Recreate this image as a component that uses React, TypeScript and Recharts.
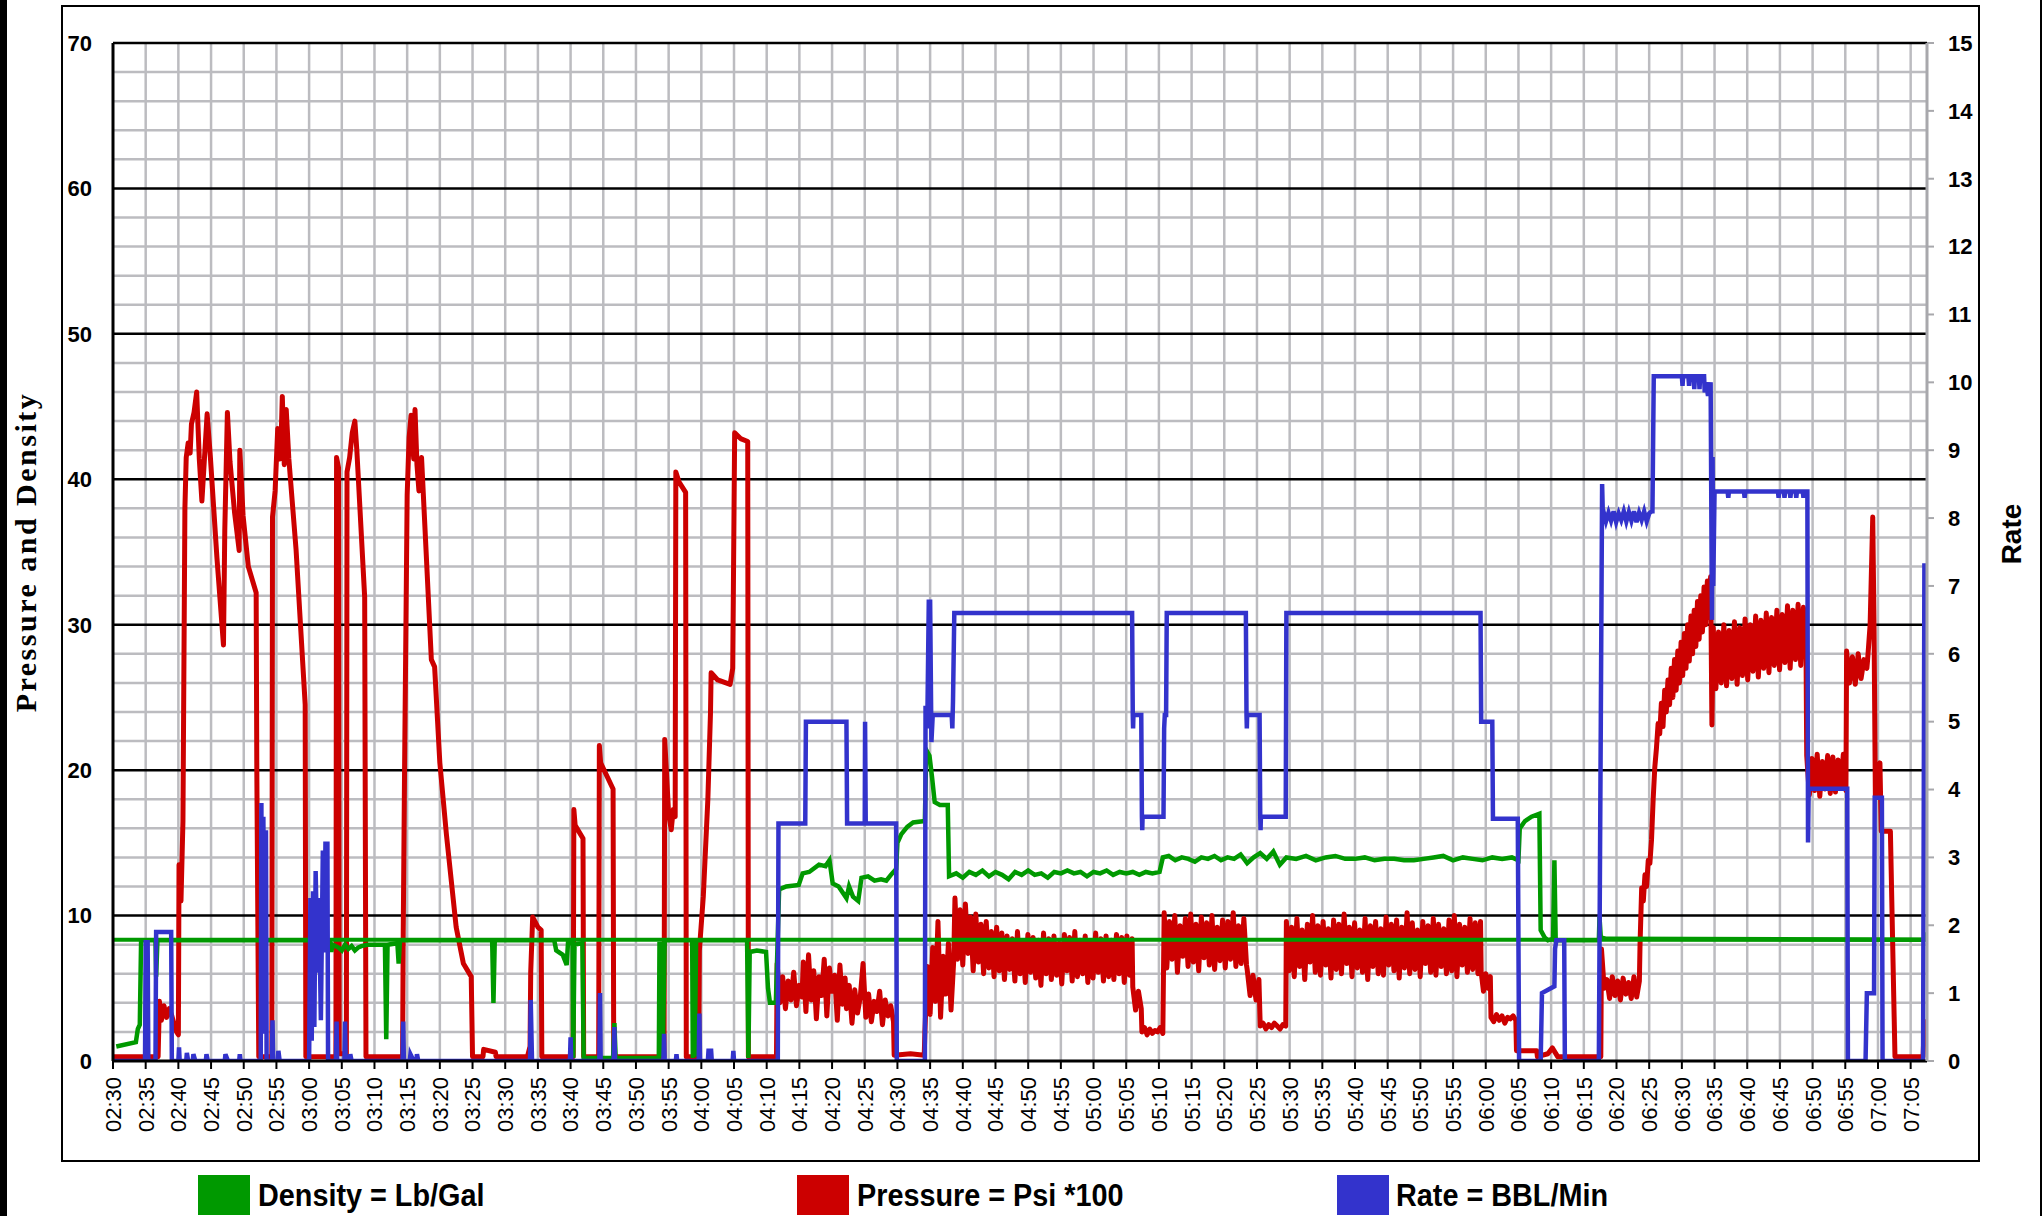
import React from 'react';
import { LineChart, Line, XAxis, YAxis, ReferenceLine } from 'recharts';

// time axis labels, every 5 minutes from the start of the job
const timeLabels = [
  '02:30', '02:35', '02:40', '02:45', '02:50', '02:55', '03:00', '03:05', '03:10', '03:15',
  '03:20', '03:25', '03:30', '03:35', '03:40', '03:45', '03:50', '03:55', '04:00', '04:05',
  '04:10', '04:15', '04:20', '04:25', '04:30', '04:35', '04:40', '04:45', '04:50', '04:55',
  '05:00', '05:05', '05:10', '05:15', '05:20', '05:25', '05:30', '05:35', '05:40', '05:45',
  '05:50', '05:55', '06:00', '06:05', '06:10', '06:15', '06:20', '06:25', '06:30', '06:35',
  '06:40', '06:45', '06:50', '06:55', '07:00', '07:05',
];
const timeEnd = '07:07:30';

const leftTicks = [0, 10, 20, 30, 40, 50, 60, 70];
const rightTicks = [0, 1, 2, 3, 4, 5, 6, 7, 8, 9, 10, 11, 12, 13, 14, 15];
const minorGrid = [2, 4, 6, 8, 12, 14, 16, 18, 22, 24, 26, 28, 32, 34, 36, 38, 42, 44, 46, 48, 52, 54, 56, 58, 62, 64, 66, 68];
const waterDensity = 8.34;

// [minutes after 02:30, value]
const pressureTrace: [number, number][] = [
  [0, 0.3], [6.9, 0.3], [7.1, 4.1], [7.4, 2.8], [7.8, 3.8], [8.2, 3.0], [8.6, 3.6], [9.0, 3.1], [9.6, 2.1], [10.0, 1.8],
  [10.1, 13.5], [10.4, 11], [10.7, 16.5], [11.0, 38], [11.2, 41.5], [11.5, 42.5], [11.8, 41.8], [12.0, 43.8], [12.4, 44.6],
  [12.8, 46], [13.2, 41.4], [13.6, 38.5], [14.0, 41.5], [14.4, 44.5], [14.9, 41.5], [15.9, 34.6], [16.9, 28.6], [17.1, 36.5],
  [17.5, 44.6], [17.9, 41.2], [18.6, 37.7], [19.3, 35.1], [19.4, 42.0], [19.9, 37.5], [20.7, 34.0], [21.9, 32.2], [22.0, 20], [22.3, 0.3],
  [24.3, 0.3], [24.4, 37.4], [24.8, 39.2], [25.2, 43.5], [25.5, 41.4], [25.7, 42.5], [25.9, 45.7], [26.2, 41], [26.5, 44.8],
  [26.9, 41.4], [28.0, 35.2], [29.4, 24.5], [29.5, 0.3],
  [34.1, 0.3], [34.2, 41.5], [34.5, 40.8], [34.6, 0.5], [35.7, 0.5], [35.8, 40.5], [36.2, 41.5], [36.6, 43.2], [37.0, 44.0],
  [37.3, 42.0], [38.5, 31.9], [38.7, 0.3],
  [44.3, 0.3], [44.4, 8.9], [44.6, 19.9], [45.0, 38.9], [45.3, 42.9], [45.6, 44.4], [46.0, 41.4], [46.2, 44.8], [46.5, 41.0],
  [46.8, 39.2], [47.2, 41.5], [48.7, 27.6], [49.2, 27.1], [50.0, 20.5], [51.0, 15.6], [52.5, 9.2], [53.6, 6.7], [54.8, 5.8], [55.0, 0.3],
  [56.6, 0.3], [56.7, 0.8], [58.5, 0.6], [58.6, 0.3],
  [63.4, 0.3], [63.8, 1.0], [63.9, 6.1], [64.2, 9.9], [65.0, 9.2], [65.5, 9.0], [65.6, 0.3],
  [70.4, 0.3], [70.5, 17.3], [70.7, 16.2], [71.9, 15.3], [72.0, 0.3],
  [74.3, 0.3], [74.4, 21.7], [74.6, 20.5], [76.5, 18.7], [76.6, 0.3],
  [84.3, 0.3], [84.4, 22.1], [85.0, 17], [85.4, 15.9], [85.7, 17.3], [86.0, 16.8], [86.1, 40.5], [86.6, 39.8], [87.6, 39.1], [87.7, 0.3],
  [89.6, 0.3], [89.7, 7.6], [90.3, 11.3], [91.0, 18], [91.4, 23.9], [91.5, 26.7], [92.5, 26.2], [94.4, 25.9], [94.8, 27],
  [94.9, 32.2], [95.1, 43.2], [96.0, 42.8], [97.1, 42.6], [97.2, 0.3], [101.5, 0.3],
  [119.5, 0.4], [122, 0.5], [124.1, 0.4],
  [214.7, 0.7], [217.8, 0.7], [217.9, 0.3], [219.5, 0.5], [220.2, 0.9], [221.0, 0.3], [227.6, 0.3],
  [244.6, 23.1],
  [268.4, 27.5], [268.8, 30], [269.2, 37.4], [269.4, 29.8], [269.6, 18.2], [270.0, 19.5], [270.3, 20.5], [270.5, 15.8],
  [271.9, 15.8], [272.6, 0.3], [276.9, 0.3], [277.1, 2.7], [277.5, 2.7],
];

// noisy stretches of the logger, read as evenly spaced samples
const pressureBands = [
  { from: 101.6, to: 105.4, values: [6.7, 4.0, 5.8, 3.6, 5.5, 4.2, 6.1, 3.8, 5.2, 4.4] },
  { from: 105.6, to: 112.0, values: [6.8, 3.4, 7.3, 4.2, 6.2, 2.9, 5.8, 4.5, 7.0, 3.1, 6.4, 4.8, 5.9, 2.8, 6.6, 3.9, 5.7] },
  { from: 112.2, to: 119.4, values: [3.6, 5.2, 2.6, 4.9, 3.3, 4.4, 6.7, 3.0, 4.6, 2.7, 4.1, 3.4, 4.8, 2.5, 4.2, 3.1, 3.8, 2.7] },
  { from: 124.2, to: 128.6, values: [2.0, 6.5, 3.2, 7.8, 4.1, 9.6, 3.0, 7.2, 4.6, 8.1, 3.5, 6.8] },
  {
    from: 128.8, to: 155.9, values: [
      11.2, 7.0, 10.4, 6.6, 10.8, 7.4, 9.9, 6.2, 10.1, 6.8, 9.4, 6.0, 9.6, 6.4, 8.9, 5.8, 9.2, 6.2, 8.8, 5.6,
      8.6, 6.3, 8.4, 5.5, 8.9, 6.0, 8.2, 5.4, 8.7, 6.1, 8.5, 5.7, 8.3, 5.2, 8.8, 6.0, 8.4, 5.6, 8.6, 5.9,
      8.1, 5.3, 8.7, 6.2, 8.5, 5.5, 8.9, 5.8, 8.3, 6.0, 8.6, 5.4, 8.2, 5.7, 8.8, 6.1, 8.4, 5.5, 8.6, 5.8,
      8.3, 5.6, 8.7, 6.0, 8.5, 5.4, 8.6, 5.9, 8.4,
    ],
  },
  { from: 156.0, to: 157.3, values: [5.1, 3.5, 4.8, 3.6] },
  { from: 157.4, to: 160.6, values: [2.0, 2.3, 1.8, 2.2, 1.9, 2.1, 2.0, 2.3, 1.9] },
  {
    from: 160.8, to: 173.4, values: [
      10.2, 6.4, 9.6, 7.0, 10.0, 6.1, 9.3, 7.2, 9.8, 6.5, 10.1, 6.8, 9.4, 6.2, 9.9, 7.1,
      9.5, 6.6, 10.0, 6.3, 9.2, 6.9, 9.7, 6.4, 9.6, 7.0, 10.2, 6.5, 9.3, 6.7, 9.8, 6.6,
    ],
  },
  { from: 173.5, to: 175.3, values: [6.3, 4.5, 5.9, 4.2, 5.6] },
  { from: 175.5, to: 179.4, values: [2.4, 2.6, 2.2, 2.5, 2.3, 2.6, 2.4, 2.2, 2.5, 2.4] },
  {
    from: 179.5, to: 209.2, values: [
      9.6, 6.2, 9.2, 5.8, 9.8, 6.5, 9.0, 5.6, 9.4, 6.8, 10.0, 6.1, 9.3, 5.9, 9.6, 6.6, 9.1, 5.7, 9.7, 6.3,
      9.4, 6.0, 10.1, 6.7, 9.2, 5.8, 9.5, 6.4, 9.0, 6.1, 9.8, 5.6, 9.3, 6.5, 9.6, 6.0, 9.1, 5.9, 9.9, 6.6,
      9.4, 6.2, 9.7, 5.7, 9.2, 6.4, 10.2, 6.0, 9.5, 6.3, 9.0, 5.8, 9.6, 6.7, 9.3, 6.1, 9.8, 5.9, 9.4, 6.5,
      9.1, 6.0, 9.7, 6.2, 10.0, 5.8, 9.4, 6.6, 9.2, 6.1, 9.8, 6.3, 9.5, 6.0, 9.6,
    ],
  },
  { from: 209.3, to: 210.7, values: [6.1, 4.8, 6.0, 5.0, 5.8] },
  { from: 210.8, to: 214.6, values: [3.0, 2.7, 3.2, 2.8, 3.1, 2.6, 3.0, 2.9, 3.1, 2.8] },
  { from: 227.7, to: 233.5, values: [7.7, 5.0, 5.6, 4.3, 5.8, 4.5, 5.5, 4.2, 5.7, 4.6, 5.4, 4.3, 5.8, 4.4, 5.5] },
  {
    from: 233.6, to: 244.4, values: [
      8.0, 11.9, 11.0, 12.8, 12.0, 13.8, 13.6, 15.2, 18.0, 20.2, 21.5, 23.2, 22.5, 24.6, 23.0, 25.5, 24.0, 26.2,
      24.5, 27.0, 25.0, 27.6, 25.5, 28.2, 26.0, 28.8, 26.5, 29.4, 27.0, 30.0, 27.5, 30.6, 28.0, 31.0, 28.5, 31.6,
      29.0, 32.0, 29.5, 32.6, 30.0, 33.0, 30.5, 33.3,
    ],
  },
  {
    from: 244.8, to: 259.0, values: [
      29.8, 25.6, 29.5, 26.0, 30.0, 25.8, 29.6, 26.3, 30.2, 25.9, 29.8, 26.5, 30.4, 26.2, 30.0, 26.8, 30.6, 26.4,
      30.3, 27.0, 30.8, 26.7, 30.5, 27.2, 31.0, 26.9, 30.7, 27.4, 31.3, 27.0, 31.0, 27.6, 31.4, 27.2, 31.2, 27.8,
    ],
  },
  { from: 259.1, to: 265.1, values: [21.0, 18.3, 20.8, 18.6, 21.1, 18.2, 20.6, 18.7, 21.0, 18.4, 20.9, 18.5, 20.7, 18.8, 21.1, 18.6] },
  { from: 265.2, to: 268.3, values: [28.2, 26.0, 27.8, 25.9, 28.0, 26.3, 27.6, 27.0] },
];

const densityTrace: [number, number][] = [
  [0.5, 1.0], [3.5, 1.3], [3.8, 2.2], [4.1, 2.5], [4.3, 8.3], [6.5, 8.3], [6.6, 5.8], [6.8, 8.3], [31.4, 8.3], [31.6, 7.8],
  [31.8, 8.3], [33.2, 8.2], [33.4, 7.5], [33.6, 8.0], [34.5, 7.8], [35.0, 7.6], [35.5, 8.0], [36.0, 7.7], [36.5, 7.9],
  [37.0, 7.6], [37.5, 7.8], [38.0, 7.9], [39.0, 8.0], [40.5, 8.0], [41.6, 8.0], [41.8, 1.5], [42.0, 8.0], [43.5, 8.1],
  [43.7, 6.7], [43.9, 8.3], [58.0, 8.3], [58.2, 4.0], [58.4, 8.3], [67.5, 8.3], [67.8, 7.6], [68.8, 7.3], [69.4, 6.6],
  [69.6, 8.1], [70.3, 8.1], [70.4, 0.2], [70.6, 8.0], [71.8, 8.1], [72.0, 0.2], [76.5, 0.2], [76.7, 2.6], [76.9, 0.2],
  [83.5, 0.2], [83.6, 8.2], [83.7, 0.3], [84.0, 8.2], [84.1, 0.5], [84.4, 8.3], [88.6, 8.3], [88.7, 0.2], [88.9, 8.0],
  [89.0, 0.3], [89.2, 8.3], [97.0, 8.3], [97.2, 0.2], [97.4, 7.5], [98.5, 7.6], [99.9, 7.5], [100.2, 5.0], [100.5, 4.0],
  [101.4, 4.0], [101.9, 11.8], [103, 12.0], [104.9, 12.1], [105.5, 12.9], [106.5, 13.0], [108.0, 13.5], [109.0, 13.4],
  [109.6, 13.8], [110.1, 12.2], [111.0, 12.0], [112.2, 11.2], [112.6, 12.0], [113.2, 11.3], [114.0, 11.0], [114.5, 12.6],
  [115.5, 12.7], [116.5, 12.4], [117.5, 12.5], [118.3, 12.4], [119.0, 12.8], [119.8, 13.2], [120.0, 15.0], [120.6, 15.6],
  [121.5, 16.1], [122.4, 16.4], [124.2, 16.5], [124.4, 21.4], [124.9, 21.0], [125.3, 19.5], [125.7, 17.8], [126.5, 17.6],
  [127.7, 17.6], [127.9, 12.7], [129.0, 12.9], [130.0, 12.6], [131.0, 13.0], [132, 12.8], [133, 13.1], [134, 12.7],
  [135, 13.0], [136, 12.8], [137, 12.5], [138, 13.0], [139, 12.8], [140, 13.1], [141, 12.8], [142, 12.9], [143, 12.6],
  [144, 13.0], [145, 12.9], [146, 13.1], [147, 12.9], [148, 13.0], [149, 12.7], [150, 13.0], [151, 12.9], [152, 13.1],
  [153, 12.8], [154, 13.0], [155, 12.9], [156, 13.0], [157, 12.8], [158, 13.0], [159, 12.9], [160.1, 13.0], [160.6, 14.0],
  [161.5, 14.1], [162.5, 13.8], [163.5, 14.0], [164.5, 13.9], [165.5, 13.7], [166.5, 14.0], [167.5, 13.9], [168.5, 14.1],
  [169.5, 13.8], [170.5, 14.0], [171.5, 13.9], [172.5, 14.2], [173.5, 13.6], [174.5, 14.0], [175.5, 14.3], [176.5, 13.9],
  [177.5, 14.4], [178.5, 13.5], [179.5, 14.0], [181, 13.9], [182.5, 14.1], [184, 13.8], [185.5, 14.0], [187, 14.1],
  [188.5, 13.9], [190, 13.9], [191.5, 14.0], [193, 13.8], [194.5, 13.9], [196, 13.9], [197.5, 13.8], [199, 13.8],
  [200.5, 13.9], [202, 14.0], [203.5, 14.1], [205, 13.8], [206.5, 14.0], [208, 13.9], [209.5, 13.8], [211, 14.0],
  [212.5, 13.9], [214, 14.0], [215.0, 13.8], [215.2, 16.0], [216.0, 16.5], [217.0, 16.8], [218.2, 17.0], [218.4, 9.0],
  [219.0, 8.5], [219.5, 8.3], [220.3, 8.4], [220.5, 13.8], [220.7, 8.3], [227.3, 8.3], [227.4, 9.9], [227.6, 8.5],
  [228.5, 8.4], [277.0, 8.34], [277.5, 8.8],
];

const rateTrace: [number, number][] = [
  [0, 0], [4.9, 0], [5.0, 1.75], [5.3, 1.75], [5.4, 0], [6.5, 0], [6.6, 1.9], [8.9, 1.9], [9.0, 0],
  [10.0, 0], [10.1, 0.2], [10.2, 0], [11.2, 0], [11.3, 0.12], [11.5, 0], [12.2, 0], [12.3, 0.1], [12.6, 0], [14.2, 0],
  [14.3, 0.1], [14.5, 0], [17.1, 0], [17.2, 0.1], [17.6, 0], [19.3, 0], [19.4, 0.1], [19.5, 0],
  [22.6, 0], [22.7, 3.8], [22.8, 0.4], [23.0, 3.6], [23.2, 1.0], [23.4, 3.4], [23.5, 0], [24.3, 0], [24.4, 0.6], [24.5, 0],
  [25.2, 0], [25.3, 0.15], [25.5, 0],
  [30.0, 0], [30.2, 2.4], [30.4, 0.3], [30.6, 2.5], [30.8, 0.5], [31.0, 2.8], [31.3, 1.3], [31.5, 2.4], [31.8, 0.6],
  [32.1, 3.1], [32.3, 1.6], [32.5, 3.2], [32.8, 3.2], [32.9, 0],
  [34.1, 0], [34.2, 0.58], [34.3, 0], [35.4, 0], [35.5, 0.58], [35.6, 0], [36.2, 0], [36.3, 0.1], [36.5, 0],
  [44.3, 0], [44.4, 0.58], [44.5, 0], [45.4, 0], [45.5, 0.1], [46.0, 0], [46.4, 0], [46.5, 0.1], [46.7, 0],
  [63.8, 0], [63.9, 0.9], [64.1, 0],
  [69.9, 0], [70.0, 0.35], [70.1, 0], [74.4, 0], [74.5, 1.0], [74.6, 0], [76.6, 0], [76.7, 0.5], [76.8, 0],
  [84.2, 0], [84.3, 0.4], [84.4, 0], [86.1, 0], [86.2, 0.1], [86.3, 0], [89.6, 0], [89.7, 0.7], [89.8, 0],
  [91.0, 0], [91.1, 0.15], [91.5, 0.15], [91.6, 0], [94.8, 0], [94.9, 0.15], [95.0, 0],
  [101.7, 0], [101.8, 3.5], [105.9, 3.5], [106.0, 5.0], [112.2, 5.0], [112.3, 3.5], [115.0, 3.5], [115.05, 5.0],
  [115.15, 3.5], [119.8, 3.5], [119.9, 0], [124.2, 0], [124.3, 5.2], [124.6, 5.2], [124.8, 6.8], [124.9, 4.9],
  [125.0, 6.8], [125.2, 4.7], [125.4, 5.1], [128.3, 5.1], [128.4, 4.9], [128.5, 5.3], [128.7, 6.6], [155.9, 6.6],
  [156.0, 5.1], [156.05, 4.9], [156.1, 5.1], [157.3, 5.1], [157.4, 3.6], [157.45, 3.4], [157.5, 3.6], [160.7, 3.6],
  [160.8, 4.9], [160.9, 5.1], [161.1, 5.1], [161.2, 6.6], [173.3, 6.6], [173.4, 5.1], [173.45, 4.9], [173.5, 5.1],
  [175.4, 5.1], [175.5, 3.6], [175.55, 3.4], [175.6, 3.6], [179.4, 3.6], [179.5, 6.6], [209.2, 6.6], [209.3, 5.0],
  [211.0, 5.0], [211.1, 3.57], [214.9, 3.57], [215.1, 0], [218.4, 0], [218.6, 1.0], [220.5, 1.1], [220.6, 1.65],
  [220.8, 1.78], [222.0, 1.78], [222.1, 0], [227.3, 0], [227.6, 5], [227.8, 8.5], [227.9, 8.1],
  [235.5, 8.1], [235.7, 10.09], [240, 10.09], [240.1, 9.95], [240.2, 10.09], [241, 10.09], [241.1, 9.95], [241.2, 10.09],
  [241.8, 10.09], [241.9, 9.9], [242.0, 10.09], [242.6, 10.09], [242.7, 9.9], [242.8, 10.09], [243.4, 10.09],
  [243.5, 9.85], [243.7, 10.0], [244.0, 9.8], [244.4, 10.0], [244.6, 6.5], [244.7, 8.9], [244.8, 7], [245.0, 8.39],
  [247, 8.39], [247.1, 8.3], [247.2, 8.39], [249.5, 8.39], [249.6, 8.3], [249.7, 8.39], [254.7, 8.39], [254.8, 8.3],
  [254.9, 8.39], [255.6, 8.39], [255.7, 8.3], [255.8, 8.39], [256.5, 8.39], [256.6, 8.3], [256.7, 8.39], [257.4, 8.39],
  [257.5, 8.3], [257.6, 8.39], [258.5, 8.39], [258.6, 8.3], [258.7, 8.39], [259.2, 8.39], [259.3, 3.22], [259.4, 4.01],
  [265.3, 4.01], [265.4, 0], [268.1, 0], [268.3, 1.0], [269.4, 1.0], [269.5, 3.88], [270.6, 3.88], [270.7, 0],
  [276.9, 0], [277.1, 7.3], [277.5, 7.3],
];

const rateBands = [
  { from: 228.0, to: 235.4, values: [8.1, 7.95, 8.08, 7.96, 8.1, 7.94, 8.07, 7.97, 8.1, 7.95, 8.09, 7.96, 8.1, 7.94, 8.08, 7.97, 8.1, 7.95, 8.07, 8.1] },
];

type Band = { from: number; to: number; values: number[] };
type Pt = { t: number; v: number };

const toMinutes = (s: string) => {
  const [h, m, sec] = s.split(':').map(Number);
  return h * 60 + m + (sec || 0) / 60;
};
const t0 = toMinutes(timeLabels[0]);
const timeTicks = timeLabels.map((l) => toMinutes(l) - t0);
const tMax = toMinutes(timeEnd) - t0;

const expandBand = (b: Band): Pt[] =>
  b.values.map((v, i) => ({ t: b.from + ((b.to - b.from) * i) / (b.values.length - 1), v }));

const build = (trace: [number, number][], bands: Band[]): Pt[] =>
  [...trace.map(([t, v]) => ({ t, v })), ...bands.flatMap(expandBand)].sort((a, b) => a.t - b.t);

const pressureData = build(pressureTrace, pressureBands);
const densityData = build(densityTrace, []);
const rateData = build(rateTrace, rateBands);
const waterData = [{ t: 0, v: waterDensity }, { t: tMax, v: waterDensity }];

const GREEN = '#009900';
const RED = '#cc0000';
const BLUE = '#3333cc';
const GRID = '#bcbcc0';

const TimeTick = (props: any) => {
  const { x, y, payload } = props;
  const idx = timeTicks.indexOf(payload.value);
  return (
    <text
      x={x}
      y={y}
      transform={`rotate(-90 ${x} ${y})`}
      textAnchor="end"
      dy="0.36em"
      fontSize={22}
      fontFamily="'Liberation Sans', Arial, sans-serif"
      fill="#000"
    >
      {timeLabels[idx] ?? ''}
    </text>
  );
};

const legendItems = [
  { label: 'Density = Lb/Gal', color: GREEN, left: 198, textLeft: 258 },
  { label: 'Pressure = Psi *100', color: RED, left: 797, textLeft: 857 },
  { label: 'Rate = BBL/Min', color: BLUE, left: 1337, textLeft: 1396 },
];

export default function App() {
  return (
    <div
      style={{
        position: 'absolute',
        left: 0,
        top: 0,
        width: 2042,
        height: 1216,
        background: '#fff',
        fontFamily: "'Liberation Sans', Arial, sans-serif",
        overflow: 'hidden',
      }}
    >
      <div style={{ position: 'absolute', left: 0, top: 0, width: 7, height: 1216, background: '#000' }} />
      <div style={{ position: 'absolute', left: 2040, top: 0, width: 2, height: 1216, background: '#000' }} />
      <div
        style={{
          position: 'absolute',
          left: 61,
          top: 5,
          width: 1919,
          height: 1157,
          border: '2px solid #000',
          boxSizing: 'border-box',
        }}
      />

      <div style={{ position: 'absolute', left: 0, top: 0 }}>
        <LineChart width={2042} height={1216} margin={{ top: 43, right: 35, bottom: 75, left: 53 }}>
          <XAxis
            dataKey="t"
            type="number"
            domain={[0, tMax]}
            ticks={timeTicks}
            allowDataOverflow
            interval={0}
            height={80}
            tick={<TimeTick />}
            tickSize={8}
            tickMargin={8}
            axisLine={{ stroke: '#000', strokeWidth: 3 }}
            tickLine={{ stroke: '#000', strokeWidth: 2 }}
          />
          <YAxis
            yAxisId="left"
            domain={[0, 70]}
            ticks={leftTicks}
            allowDataOverflow
            width={60}
            tickSize={0}
            tickMargin={21}
            axisLine={{ stroke: '#000', strokeWidth: 3 }}
            tickLine={false}
            tick={{ fill: '#000', fontSize: 22, fontWeight: 700 }}
          />
          <YAxis
            yAxisId="right"
            orientation="right"
            domain={[0, 15]}
            ticks={rightTicks}
            allowDataOverflow
            width={80}
            tickSize={7}
            tickMargin={14}
            axisLine={{ stroke: '#a8a8ac', strokeWidth: 3 }}
            tickLine={{ stroke: '#a8a8ac', strokeWidth: 2 }}
            tick={{ fill: '#000', fontSize: 22, fontWeight: 700 }}
          />

          {timeTicks.slice(1).map((t) => (
            <ReferenceLine key={`vx${t}`} x={t} yAxisId="left" stroke={GRID} strokeWidth={2.5} />
          ))}
          {minorGrid.map((v) => (
            <ReferenceLine key={`hy${v}`} y={v} yAxisId="left" stroke={GRID} strokeWidth={2.5} />
          ))}
          {leftTicks.slice(1).map((v) => (
            <ReferenceLine key={`my${v}`} y={v} yAxisId="left" stroke="#000" strokeWidth={2.5} />
          ))}

          <Line
            data={pressureData}
            dataKey="v"
            yAxisId="left"
            type="linear"
            stroke={RED}
            strokeWidth={5}
            strokeLinejoin="round"
            dot={false}
            isAnimationActive={false}
          />
          <Line
            data={densityData}
            dataKey="v"
            yAxisId="left"
            type="linear"
            stroke={GREEN}
            strokeWidth={4.5}
            dot={false}
            isAnimationActive={false}
          />
          <Line
            data={waterData}
            dataKey="v"
            yAxisId="left"
            type="linear"
            stroke={GREEN}
            strokeWidth={4}
            dot={false}
            isAnimationActive={false}
          />
          <Line
            data={rateData}
            dataKey="v"
            yAxisId="right"
            type="linear"
            stroke={BLUE}
            strokeWidth={4.5}
            dot={false}
            isAnimationActive={false}
          />
        </LineChart>
      </div>

      <div
        style={{
          position: 'absolute',
          left: 26,
          top: 552,
          transform: 'translate(-50%, -50%) rotate(-90deg)',
          whiteSpace: 'nowrap',
          fontFamily: "'Liberation Serif', 'Times New Roman', serif",
          fontWeight: 700,
          fontSize: 30,
          letterSpacing: 2.5,
          color: '#000',
        }}
      >
        Pressure and Density
      </div>
      <div
        style={{
          position: 'absolute',
          left: 2012,
          top: 534,
          transform: 'translate(-50%, -50%) rotate(-90deg)',
          whiteSpace: 'nowrap',
          fontWeight: 700,
          fontSize: 28,
          color: '#000',
        }}
      >
        Rate
      </div>

      {legendItems.map((item) => (
        <React.Fragment key={item.label}>
          <div
            style={{
              position: 'absolute',
              left: item.left,
              top: 1175,
              width: 52,
              height: 40,
              background: item.color,
            }}
          />
          <div
            style={{
              position: 'absolute',
              left: item.textLeft,
              top: 1176,
              fontSize: 32,
              fontWeight: 700,
              lineHeight: '38px',
              whiteSpace: 'nowrap',
              transform: 'scaleX(0.9)',
              transformOrigin: 'left center',
              color: '#000',
            }}
          >
            {item.label}
          </div>
        </React.Fragment>
      ))}
    </div>
  );
}
